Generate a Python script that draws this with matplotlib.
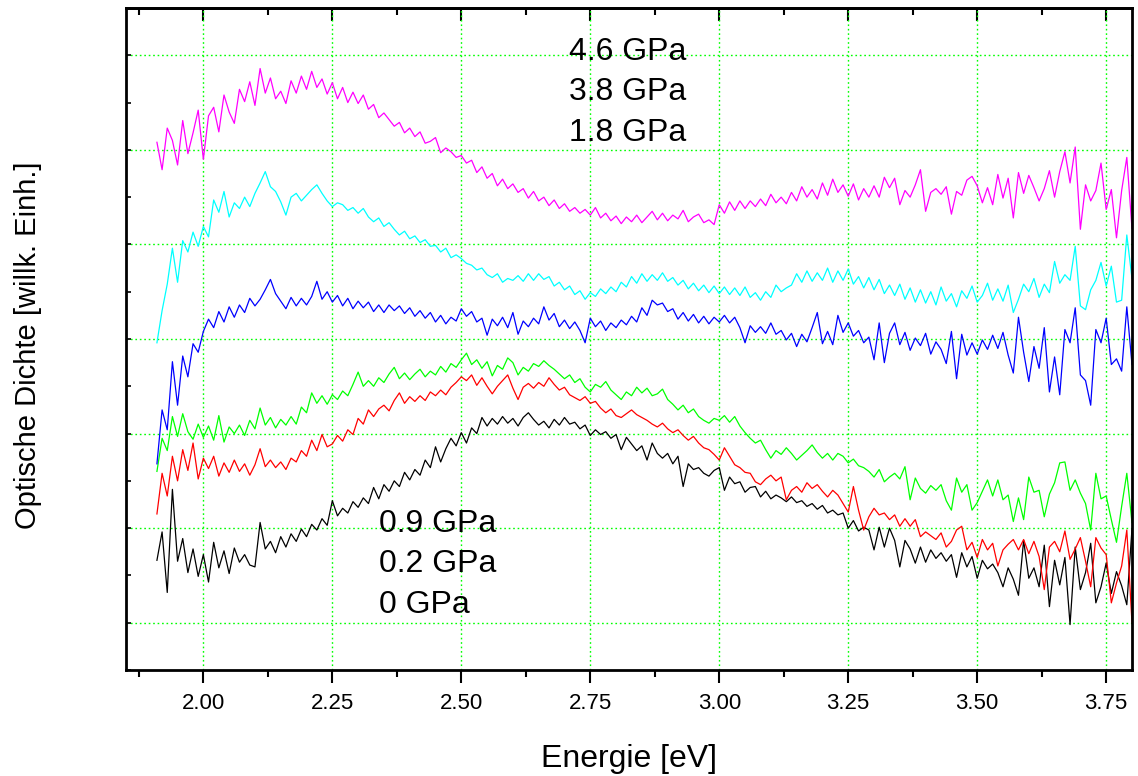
import matplotlib
matplotlib.use("Agg")
import matplotlib.pyplot as plt
import numpy as np
from matplotlib.ticker import MultipleLocator, FormatStrFormatter, NullFormatter

plt.rcParams['font.family'] = ['Liberation Sans', 'DejaVu Sans']

# Photonenenergie in eV, Schrittweite 0.01 eV
energie = np.linspace(1.91, 3.80, 190)

# Optische Dichte (willk. Einh.) bei verschiedenen Druecken, Kurven vertikal versetzt
od_4_6 = [
    60.8, 57.9, 62.3, 61.0, 58.4, 63.1, 59.6, 61.8, 64.2, 59.0,
    63.6, 64.5, 61.9, 65.8, 64.0, 62.8, 66.4, 65.1, 67.2, 64.7,
    68.6, 66.0, 67.6, 65.4, 66.2, 64.9, 67.3, 66.0, 67.8, 66.4,
    68.3, 66.6, 67.5, 65.9, 67.1, 65.4, 66.6, 65.0, 66.1, 64.9,
    65.8, 64.3, 64.8, 63.4, 63.9, 63.2, 62.5, 62.9, 61.8, 62.3,
    61.4, 61.9, 60.7, 60.9, 61.3, 59.7, 60.2, 59.8, 59.2, 59.4,
    58.6, 58.9, 57.6, 58.2, 57.0, 57.5, 56.2, 56.9, 55.9, 56.4,
    55.5, 55.9, 54.9, 55.6, 54.6, 55.0, 54.1, 54.7, 53.8, 54.3,
    53.5, 53.9, 53.3, 53.7, 53.1, 53.9, 52.8, 53.3, 52.5, 53.0,
    52.2, 52.9, 52.4, 53.1, 52.3, 52.9, 53.5, 52.6, 53.3, 52.5,
    53.1, 52.7, 53.6, 52.4, 52.9, 53.2, 52.3, 52.6, 52.1, 54.2,
    53.3, 54.5, 53.6, 54.6, 53.8, 54.6, 54.0, 54.8, 54.1, 55.3,
    54.4, 55.0, 54.3, 55.5, 54.6, 56.1, 55.0, 55.8, 54.8, 56.5,
    55.2, 56.9, 55.5, 56.3, 55.1, 56.4, 54.7, 55.9, 55.0, 56.2,
    55.0, 57.1, 56.0, 57.0, 54.2, 55.7, 55.0, 56.3, 57.9, 53.5,
    55.5, 55.9, 55.3, 56.1, 53.2, 55.6, 55.2, 56.8, 57.2, 56.2,
    54.4, 56.0, 54.2, 57.4, 54.9, 57.0, 52.8, 57.6, 55.4, 57.3,
    56.0, 54.6, 55.9, 57.8, 55.0, 57.7, 59.8, 56.5, 60.3, 51.6,
    56.3, 54.6, 55.7, 58.6, 53.7, 55.8, 50.7, 55.7, 59.2, 51.7,
]
od_3_8 = [
    39.6, 43.0, 45.8, 49.6, 46.0, 50.4, 49.2, 51.3, 49.8, 51.9,
    50.8, 54.7, 53.4, 55.6, 52.9, 54.4, 53.8, 55.0, 54.0, 55.4,
    56.5, 57.7, 56.1, 55.6, 54.5, 53.1, 55.0, 55.4, 54.6, 55.2,
    55.8, 56.3, 55.4, 54.6, 54.0, 54.4, 54.2, 53.6, 53.9, 53.3,
    53.8, 52.9, 52.4, 52.8, 51.9, 52.3, 51.6, 51.0, 51.4, 50.6,
    50.9, 50.2, 50.5, 49.8, 49.9, 49.2, 49.6, 48.6, 48.9, 48.5,
    48.0, 47.8, 47.3, 47.5, 46.8, 46.5, 46.9, 46.0, 46.4, 46.2,
    46.7, 46.1, 46.9, 46.2, 46.9, 46.3, 46.6, 45.6, 46.0, 45.2,
    45.6, 44.7, 45.1, 44.2, 44.9, 44.5, 45.3, 44.8, 45.5, 45.0,
    46.0, 45.5, 46.6, 45.9, 46.9, 46.1, 46.8, 46.2, 47.0, 46.1,
    46.5, 45.7, 46.2, 45.3, 45.9, 45.1, 45.7, 44.9, 45.6, 44.8,
    45.5, 44.7, 45.4, 44.6, 45.5, 44.4, 44.9, 44.1, 45.0, 44.4,
    45.7, 45.0, 45.4, 45.7, 46.9, 46.0, 47.2, 46.1, 47.0, 46.2,
    47.5, 46.0, 47.2, 46.2, 47.4, 45.8, 46.6, 45.4, 46.5, 45.2,
    46.3, 44.8, 45.7, 44.6, 45.8, 44.2, 45.4, 43.9, 45.2, 43.8,
    45.0, 43.6, 45.5, 44.0, 44.8, 43.4, 45.1, 44.3, 45.6, 43.9,
    44.6, 45.9, 44.1, 45.3, 44.0, 45.7, 42.8, 44.2, 45.8, 45.0,
    46.4, 44.4, 45.8, 44.9, 48.2, 45.9, 46.8, 46.2, 49.8, 43.5,
    43.1, 45.2, 46.2, 48.1, 45.6, 47.7, 43.9, 44.1, 51.0, 46.4,
]
od_1_8 = [
    26.8, 32.5, 30.4, 37.6, 33.0, 38.2, 36.0, 39.5, 38.6, 40.8,
    42.1, 41.2, 42.9, 41.8, 43.4, 42.3, 43.6, 42.8, 44.3, 43.5,
    44.2, 45.2, 46.3, 44.8, 44.0, 43.2, 44.4, 43.5, 44.3, 43.6,
    44.5, 46.1, 44.2, 45.0, 43.9, 44.6, 43.5, 44.3, 43.2, 44.0,
    43.3, 43.9, 42.9, 43.6, 42.8, 43.6, 43.0, 43.5, 42.7, 43.3,
    42.4, 43.0, 42.2, 42.8, 41.8, 42.5, 41.6, 42.3, 41.9, 43.2,
    42.4, 42.9, 41.8, 42.2, 40.4, 42.1, 41.4, 42.3, 41.2, 42.8,
    40.5, 41.9, 41.3, 42.2, 41.6, 43.4, 42.0, 42.7, 41.3, 42.0,
    41.1, 41.8, 40.9, 39.6, 42.2, 41.3, 41.9, 40.9, 41.7, 41.2,
    42.0, 41.5, 42.4, 41.8, 43.3, 42.5, 44.1, 43.6, 43.8, 42.9,
    43.2, 42.1, 42.8, 41.9, 42.6, 41.7, 42.4, 41.6, 42.3, 41.8,
    42.5, 41.7, 42.3, 41.2, 39.6, 41.4, 40.7, 41.3, 40.6, 41.7,
    40.5, 40.9, 39.9, 40.6, 39.2, 40.5, 39.7, 41.2, 42.8, 39.5,
    40.8, 39.4, 42.5, 40.7, 41.7, 40.3, 40.9, 39.6, 40.2, 37.8,
    41.7, 37.5, 40.6, 41.7, 39.4, 40.7, 38.8, 40.1, 39.3, 40.6,
    38.4, 39.7, 38.9, 37.4, 40.8, 35.8, 40.5, 38.3, 39.6, 38.4,
    39.9, 38.9, 40.4, 39.0, 40.7, 38.3, 36.4, 42.3, 38.6, 35.5,
    39.2, 36.9, 41.2, 34.4, 38.1, 34.1, 41.0, 39.6, 43.3, 36.2,
    35.6, 33.0, 41.0, 39.6, 42.2, 37.3, 37.9, 36.6, 43.4, 37.3,
]
od_0_9 = [
    26.0, 29.5, 28.2, 31.8, 29.7, 32.1, 30.2, 29.4, 31.0, 29.6,
    30.8, 29.3, 31.9, 29.1, 30.7, 30.0, 30.9, 29.8, 31.4, 30.5,
    32.7, 30.9, 31.7, 30.6, 31.5, 30.9, 31.8, 31.0, 32.8, 32.2,
    34.3, 33.2, 34.0, 33.1, 34.1, 33.6, 34.5, 34.0, 35.2, 36.5,
    35.0, 35.6, 35.0, 35.9, 35.4, 36.3, 37.0, 35.8, 36.4, 35.7,
    36.3, 36.8, 36.0, 36.6, 36.2, 37.1, 36.5, 37.4, 37.0, 37.8,
    38.5, 37.3, 37.8, 36.9, 37.6, 36.1, 37.2, 36.8, 38.0, 37.5,
    36.2, 37.0, 36.6, 37.4, 37.1, 37.7, 37.2, 36.8, 36.3, 35.8,
    36.2, 35.4, 35.8, 34.9, 34.4, 35.2, 34.9, 35.5, 34.6, 34.1,
    33.6, 34.4, 34.0, 34.9, 34.3, 34.8, 34.0, 34.2, 34.7, 33.6,
    33.1, 32.5, 33.0, 32.2, 32.6, 31.8, 31.4, 31.1, 31.6, 31.4,
    31.9, 31.2, 31.8, 30.8, 30.1, 29.5, 29.0, 29.3, 28.3, 27.4,
    28.2, 27.8, 28.5, 27.9, 27.2, 27.7, 28.2, 28.8, 28.0, 27.4,
    27.9, 27.2, 27.9, 27.6, 26.9, 27.3, 26.6, 26.4, 26.0, 25.4,
    26.2, 24.9, 25.4, 25.8, 25.2, 26.5, 23.0, 25.3, 24.2, 23.7,
    24.5, 24.0, 24.6, 22.9, 21.9, 25.3, 23.8, 24.6, 21.9, 22.7,
    23.9, 25.1, 23.4, 25.1, 23.0, 23.5, 20.7, 23.2, 20.9, 25.4,
    23.8, 24.0, 21.2, 23.6, 24.8, 26.9, 27.0, 24.0, 25.1, 23.7,
    22.6, 19.8, 25.8, 23.1, 23.4, 20.9, 18.5, 22.3, 25.8, 20.6,
]
od_0_2 = [
    21.5, 25.8, 23.4, 27.6, 25.0, 28.3, 26.1, 29.0, 25.2, 27.4,
    26.3, 27.6, 25.5, 26.9, 25.9, 27.2, 26.0, 26.8, 25.6, 26.7,
    28.4, 26.5, 27.2, 26.4, 27.0, 26.2, 27.4, 27.0, 28.2, 27.6,
    29.3, 28.2, 29.9, 28.6, 28.9, 29.8, 29.2, 30.4, 29.9, 31.6,
    31.0, 32.5, 31.8, 32.6, 33.0, 32.4, 33.5, 34.3, 33.2, 33.9,
    33.4, 34.0, 33.5, 34.4, 34.0, 34.6, 34.1, 34.9, 35.4, 36.0,
    35.6, 36.2, 35.1, 35.9, 35.0, 34.2, 35.0, 35.6, 36.2, 34.8,
    33.6, 34.9, 35.3, 34.8, 35.4, 35.0, 35.9, 35.2, 34.6, 34.9,
    34.1, 33.8, 33.5, 33.9, 33.2, 33.4, 32.7, 32.2, 32.6, 31.9,
    31.7, 32.1, 32.5, 32.0, 31.7, 31.4, 31.0, 30.7, 31.1, 30.5,
    30.1, 30.4, 29.8, 29.3, 29.7, 29.0, 28.5, 28.3, 27.8, 27.2,
    28.5, 27.6, 26.7, 26.4, 25.9, 25.8, 24.9, 24.6, 25.2, 25.6,
    25.0, 25.4, 23.0, 24.0, 24.4, 23.8, 24.8, 24.2, 24.6, 23.9,
    23.3, 24.0, 23.5, 22.6, 21.7, 24.4, 21.9, 19.8, 21.2, 22.1,
    21.4, 21.6, 20.9, 21.4, 20.2, 21.0, 20.2, 20.9, 19.1, 19.6,
    19.2, 18.8, 19.5, 18.0, 18.6, 19.8, 20.2, 17.7, 18.5, 16.9,
    18.8, 17.7, 18.4, 16.0, 17.7, 18.3, 18.8, 17.7, 18.8, 17.3,
    18.6, 17.0, 13.5, 18.0, 18.6, 17.5, 19.7, 16.7, 17.8, 19.0,
    16.5, 13.8, 19.0, 17.9, 17.2, 12.1, 14.2, 16.0, 19.8, 10.0,
]
od_0 = [
    16.6, 19.6, 13.2, 24.1, 16.5, 18.9, 15.3, 17.8, 14.9, 17.2,
    14.3, 18.5, 15.8, 17.6, 15.2, 17.9, 16.4, 17.2, 16.1, 15.9,
    20.6, 17.8, 18.6, 17.4, 19.1, 18.0, 19.4, 18.6, 19.9, 19.1,
    20.4, 19.8, 21.0, 20.3, 22.9, 21.3, 22.1, 21.6, 22.8, 22.2,
    23.2, 22.6, 24.3, 23.1, 24.6, 23.9, 25.0, 24.4, 25.9, 25.1,
    26.2, 25.6, 27.2, 26.4, 28.6, 27.0, 28.4, 29.5, 28.7, 30.1,
    29.0, 30.6, 30.0, 31.7, 30.8, 31.6, 31.0, 31.8, 31.1, 31.6,
    30.8, 31.7, 32.2, 31.5, 30.9, 31.3, 30.6, 31.5, 30.9, 31.7,
    31.0, 31.2, 30.5, 30.9, 29.8, 30.4, 29.9, 30.2, 29.5, 29.9,
    28.3, 29.6, 28.9, 28.2, 28.7, 27.2, 29.0, 27.9, 27.4, 27.9,
    26.8, 27.6, 24.4, 26.8, 26.2, 26.4, 25.8, 25.5, 26.1, 26.4,
    24.0, 25.4, 24.7, 24.9, 23.8, 24.3, 24.4, 23.3, 23.9, 23.1,
    23.5, 23.2, 22.8, 23.3, 22.7, 22.9, 22.3, 22.6, 22.0, 22.4,
    21.6, 21.9, 21.4, 21.6, 20.0, 20.8, 19.7, 20.1, 19.8, 17.7,
    20.1, 18.0, 20.0, 18.7, 15.9, 18.7, 17.8, 16.3, 18.0, 16.4,
    17.7, 16.8, 17.4, 16.5, 17.2, 14.8, 17.4, 15.9, 17.0, 14.7,
    16.6, 15.7, 16.2, 15.3, 13.8, 15.8, 14.6, 12.9, 18.7, 14.7,
    15.8, 13.8, 18.2, 11.7, 16.6, 14.0, 16.9, 9.8, 18.0, 13.5,
    15.3, 18.4, 12.1, 13.8, 16.3, 13.1, 15.4, 13.9, 11.9, 19.9,
]

kurven = [
    (od_0, 'black'),
    (od_0_2, '#ff0000'),
    (od_0_9, '#00ff00'),
    (od_1_8, '#0000ff'),
    (od_3_8, '#00ffff'),
    (od_4_6, '#ff00ff'),
]
druck_oben = ['4.6 GPa', '3.8 GPa', '1.8 GPa']
druck_unten = ['0.9 GPa', '0.2 GPa', '0 GPa']

fig = plt.figure(figsize=(11.38, 7.76), dpi=100)
ax = fig.add_axes([0.1107, 0.1366, 0.884, 0.8531])

for werte, farbe in kurven:
    ax.plot(energie, werte, color=farbe, linewidth=0.9)

ax.set_xlim(1.85, 3.80)
ax.set_ylim(5, 75)

# Gitter: hellgruen gepunktet
ax.set_axisbelow(True)
ax.grid(which='major', color='#00ff00', linestyle=(0, (1.2, 2.0)), linewidth=1.0)

ax.xaxis.set_major_locator(MultipleLocator(0.25))
ax.xaxis.set_minor_locator(MultipleLocator(0.125))
ax.xaxis.set_major_formatter(FormatStrFormatter('%.2f'))
ax.yaxis.set_major_locator(MultipleLocator(10))
ax.yaxis.set_minor_locator(MultipleLocator(5))
ax.yaxis.set_major_formatter(NullFormatter())

ax.tick_params(axis='x', which='both', direction='out', width=1.5,
               labelsize=16, pad=7)
ax.tick_params(axis='x', which='major', length=9.4)
ax.tick_params(axis='x', which='minor', length=5)
ax.tick_params(axis='y', which='both', direction='in', length=3.6, width=1.2,
               right=False)

oben = ax.secondary_xaxis('top')
oben.xaxis.set_major_locator(MultipleLocator(0.25))
oben.xaxis.set_minor_locator(MultipleLocator(0.125))
oben.tick_params(which='both', direction='in', labeltop=False, width=1.5)
oben.tick_params(which='major', length=9.4)
oben.tick_params(which='minor', length=5)
oben.spines['top'].set_linewidth(2)

for s in ax.spines.values():
    s.set_linewidth(2)

ax.set_xlabel('Energie [eV]', fontsize=23)
ax.xaxis.set_label_coords(0.5, -0.112)
ax.set_ylabel('Optische Dichte [willk. Einh.]', fontsize=21)
ax.yaxis.set_label_coords(-0.0835, 0.491)

for i, txt in enumerate(druck_oben):
    ax.text(0.4404, 0.9215 - i * 0.0612, txt, transform=ax.transAxes,
            fontsize=23, ha='left', va='baseline')
for i, txt in enumerate(druck_unten):
    ax.text(0.2515, 0.2085 - i * 0.0612, txt, transform=ax.transAxes,
            fontsize=23, ha='left', va='baseline')

fig.savefig('out.png', dpi=100)
